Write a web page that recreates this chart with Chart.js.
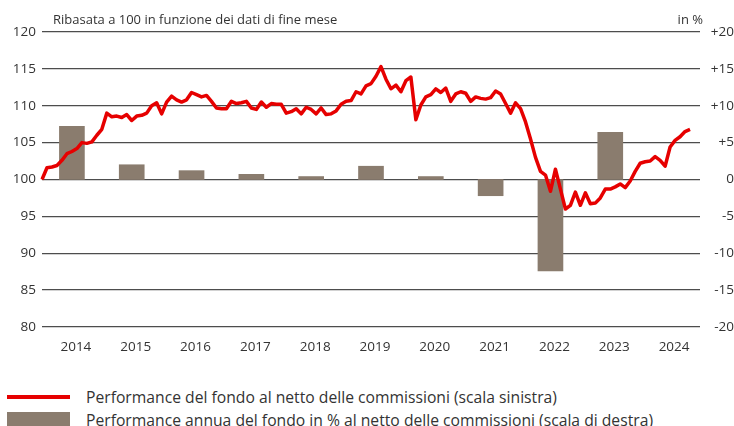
<!DOCTYPE html>
<html>
<head>
<meta charset="utf-8">
<script src="https://cdn.jsdelivr.net/npm/chart.js@4.4.1/dist/chart.umd.min.js"></script>
<style>
  body { margin: 0; background: #fff; font-family: "Open Sans", sans-serif; color: #333; }
  #wrap { position: relative; width: 734px; height: 426px; overflow: hidden; }
  #c { position: absolute; left: 0; top: 0; }
  .txt { position: absolute; white-space: nowrap; }
</style>
</head>
<body>
<div id="wrap">
  <canvas id="c" width="734" height="355"></canvas>
  <div class="txt" style="left:53px; top:10px; font-size:13px;">Ribasata a 100 in funzione dei dati di fine mese</div>
  <div class="txt" style="right:31px; top:10px; font-size:13px;">in %</div>
  <div style="position:absolute; left:7px; top:395px; width:63px; height:4px; background:#e60000;"></div>
  <div class="txt" style="left:86px; top:386px; font-size:15.7px;">Performance del fondo al netto delle commissioni (scala sinistra)</div>
  <div style="position:absolute; left:7px; top:412px; width:63px; height:14px; background:#8a7c6e;"></div>
  <div class="txt" style="left:86px; top:409px; font-size:15.7px;">Performance annua del fondo in % al netto delle commissioni (scala di destra)</div>
</div>
<script>
// monthly points, Dec 2013 .. Dec 2024
const years = ["2014", "2015", "2016", "2017", "2018", "2019", "2020", "2021", "2022", "2023", "2024"];

// fund index, rebased to 100 (left scale), last two months empty
const fundIndex = [
  100.0, 101.6, 101.7, 101.9, 102.6, 103.5, 103.8, 104.2, 105.0, 104.9, 105.1, 106.0,
  106.8, 109.0, 108.5, 108.6, 108.4, 108.8, 108.0, 108.6, 108.7, 109.0, 110.0, 110.4,
  108.9, 110.5, 111.3, 110.8, 110.5, 110.8, 111.8, 111.5, 111.2, 111.4, 110.6, 109.7,
  109.6, 109.6, 110.6, 110.3, 110.4, 110.6, 109.7, 109.5, 110.5, 109.8, 110.3, 110.2,
  110.2, 109.0, 109.2, 109.6, 108.9, 109.8, 109.5, 108.9, 109.7, 108.8, 108.9, 109.3,
  110.2, 110.6, 110.7, 111.9, 111.6, 112.7, 113.0, 114.0, 115.3, 113.6, 112.3, 112.8,
  111.9, 113.4, 113.9, 108.1, 110.1, 111.2, 111.5, 112.3, 111.8, 112.4, 110.6, 111.6,
  111.9, 111.7, 110.6, 111.2, 111.0, 110.9, 111.1, 112.0, 111.6, 110.3, 109.0, 110.4,
  109.6, 107.8, 105.5, 103.0, 101.1, 100.6, 98.4, 101.4, 98.7, 96.0, 96.5, 98.3,
  96.5, 98.2, 96.7, 96.8, 97.5, 98.7, 98.7, 99.0, 99.4, 98.9, 99.8, 101.1,
  102.2, 102.4, 102.5, 103.1, 102.6, 101.8, 104.4, 105.3, 105.8, 106.5, 106.8,
  null, null
];

// annual return in % (right scale), 2014..2023
const annualReturn = [7.2, 2.0, 1.2, 0.7, 0.4, 1.8, 0.4, -2.2, -12.4, 6.4];

const months = [];
for (let i = 0; i < fundIndex.length; i++) {
  const y = 2013 + Math.floor((i + 11) / 12);
  const m = ((i + 11) % 12) + 1;
  months.push(y + "-" + String(m).padStart(2, "0"));
}

const bars = months.map(() => null);
annualReturn.forEach((v, k) => { bars[6 + 12 * k] = v; });

const tickFont = { family: "Open Sans", size: 13.5 };

new Chart(document.getElementById("c"), {
  type: "line",
  data: {
    labels: months,
    datasets: [
      {
        type: "line",
        data: fundIndex,
        yAxisID: "y",
        borderColor: "#e60000",
        borderWidth: 3.5,
        borderJoinStyle: "round",
        pointRadius: 0,
        tension: 0,
        order: 1,
      },
      {
        type: "bar",
        data: bars,
        yAxisID: "y1",
        backgroundColor: "#8a7c6e",
        barThickness: 25,
        order: 2,
      },
    ],
  },
  options: {
    responsive: false,
    animation: false,
    layout: { padding: { top: 32, left: 0, right: 0, bottom: 0 } },
    plugins: { legend: { display: false }, tooltip: { enabled: false } },
    scales: {
      x: {
        type: "category",
        offset: false,
        grid: { display: false },
        border: { display: false },
        ticks: {
          autoSkip: false,
          maxRotation: 0,
          padding: 4,
          labelOffset: -1,
          color: "#333",
          font: tickFont,
          callback: (v, i) => (i % 12 === 7 ? years[(i - 7) / 12] : ""),
        },
        afterFit: (s) => { s.height = 28; },
      },
      y: {
        position: "left",
        min: 80,
        max: 120,
        grid: { color: "#4d4d4d", lineWidth: 1.3, drawTicks: false },
        border: { display: false },
        ticks: { stepSize: 5, padding: 6, color: "#333", font: tickFont },
        afterFit: (s) => { s.width = 42; },
      },
      y1: {
        position: "right",
        min: -20,
        max: 20,
        grid: { display: false, drawTicks: false },
        border: { display: false },
        ticks: {
          stepSize: 5,
          crossAlign: "far",
          color: "#333",
          font: tickFont,
          callback: (v) => (v > 0 ? "+" + v : String(v)),
        },
        afterFit: (s) => { s.width = 34; },
      },
    },
  },
});
</script>
</body>
</html>
